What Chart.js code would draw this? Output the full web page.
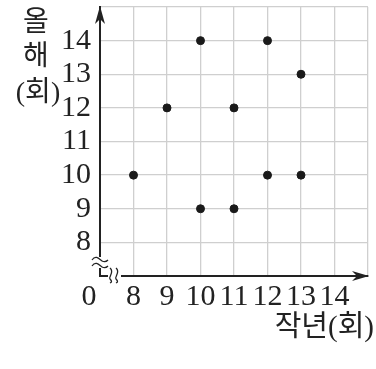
<!DOCTYPE html>
<html>
<head>
<meta charset="utf-8">
<script src="https://cdn.jsdelivr.net/npm/chart.js@4/dist/chart.umd.min.js"></script>
<style>
  body { margin: 0; background: #fff; }
</style>
</head>
<body>
<canvas id="myChart" width="376" height="369"></canvas>
<script>
// 작년 / 올해 기록 (점 하나가 학생 한 명)
var lastYear = [8, 9, 10, 10, 11, 11, 12, 12, 13, 13];
var thisYear = [10, 12, 14, 9, 12, 9, 14, 10, 13, 10];
var xTicks = [8, 9, 10, 11, 12, 13, 14];
var yTicks = [8, 9, 10, 11, 12, 13, 14];
var xTitle = '작년(회)';
var yTitle = ['올', '해', '(회)'];
var originLabel = '0';

var ink = '#222';
var serif = "'Liberation Serif', 'Noto Sans CJK KR', serif";

var points = lastYear.map(function (x, i) {
    return { x: x, y: thisYear[i] };
});

function noPad(s) {
    s.paddingTop = 0;
    s.paddingBottom = 0;
    s.paddingLeft = 0;
    s.paddingRight = 0;
}

// 축 끝 화살표, 물결선(생략 표시), 원점 0, 축 제목
var extras = {
    id: 'extras',
    afterDraw: function (chart) {
        var ctx = chart.ctx;
        var a = chart.chartArea;
        ctx.save();

        // 물결선 자리 지우기
        ctx.fillStyle = '#fff';
        ctx.fillRect(a.left - 3, a.bottom - 19, 6, 11);
        ctx.fillRect(a.left + 8, a.bottom - 3, 13, 6);

        ctx.strokeStyle = ink;
        ctx.lineWidth = 1.3;
        // 세로축 물결
        [a.bottom - 17, a.bottom - 11].forEach(function (y) {
            ctx.beginPath();
            ctx.moveTo(a.left - 8, y + 1);
            ctx.bezierCurveTo(a.left - 4, y - 5, a.left, y + 1, a.left + 2, y + 2);
            ctx.bezierCurveTo(a.left + 4, y + 3, a.left + 6, y + 3, a.left + 8, y + 1);
            ctx.stroke();
        });
        // 가로축 물결
        [a.left + 11, a.left + 17].forEach(function (x) {
            ctx.beginPath();
            ctx.moveTo(x - 1, a.bottom - 8);
            ctx.bezierCurveTo(x + 4, a.bottom - 4, x - 3, a.bottom + 1, x - 1, a.bottom + 3);
            ctx.bezierCurveTo(x + 1, a.bottom + 5, x + 1, a.bottom + 6, x - 1, a.bottom + 7);
            ctx.stroke();
        });

        // 화살표
        ctx.fillStyle = ink;
        ctx.beginPath();
        ctx.moveTo(a.left, a.top - 1);
        ctx.lineTo(a.left + 5, a.top + 17);
        ctx.lineTo(a.left, a.top + 12);
        ctx.lineTo(a.left - 5, a.top + 17);
        ctx.closePath();
        ctx.fill();

        ctx.beginPath();
        ctx.moveTo(a.right + 1, a.bottom);
        ctx.lineTo(a.right - 16, a.bottom + 5);
        ctx.lineTo(a.right - 11, a.bottom);
        ctx.lineTo(a.right - 16, a.bottom - 5);
        ctx.closePath();
        ctx.fill();

        // 원점 0
        ctx.font = "30px " + serif;
        ctx.textAlign = 'center';
        ctx.textBaseline = 'middle';
        ctx.fillText(originLabel, a.left - 11, a.bottom + 21);

        // 세로축 제목
        ctx.font = "28px " + serif;
        ctx.fillText(yTitle[0], 36, 24);
        ctx.fillText(yTitle[1], 36, 58);
        ctx.fillText(yTitle[2], 38, 94);

        // 가로축 제목
        ctx.font = "29px " + serif;
        ctx.textAlign = 'right';
        ctx.fillText(xTitle, 374, 328);
        ctx.restore();
    }
};

var ctx = document.getElementById('myChart').getContext('2d');
var chart = new Chart(ctx, {
    type: 'scatter',
    data: {
        datasets: [{
            data: points,
            backgroundColor: '#1a1a1a',
            borderColor: '#1a1a1a',
            pointRadius: 4,
            pointHoverRadius: 4
        }]
    },
    options: {
        responsive: false,
        animation: false,
        events: [],
        layout: { padding: { top: 7, right: 8, left: 0, bottom: 0 } },
        plugins: {
            legend: { display: false },
            tooltip: { enabled: false }
        },
        scales: {
            x: {
                type: 'linear',
                min: 7,
                max: 15,
                afterFit: function (s) { s.height = 93; noPad(s); },
                afterBuildTicks: function (s) {
                    s.ticks = [];
                    for (var v = 7; v <= 15; v++) s.ticks.push({ value: v });
                },
                ticks: {
                    autoSkip: false,
                    maxRotation: 0,
                    padding: 3,
                    color: ink,
                    font: { family: serif, size: 30 },
                    callback: function (v) {
                        return xTicks.indexOf(v) >= 0 ? String(v) : '';
                    }
                },
                grid: { color: '#cfcfcf', lineWidth: 1.3, drawTicks: false },
                border: { color: ink, width: 2 }
            },
            y: {
                type: 'linear',
                min: 7,
                max: 15,
                afterFit: function (s) { s.width = 100; noPad(s); },
                afterBuildTicks: function (s) {
                    s.ticks = [];
                    for (var v = 7; v <= 15; v++) s.ticks.push({ value: v });
                },
                ticks: {
                    autoSkip: false,
                    padding: 9,
                    color: ink,
                    font: { family: serif, size: 30 },
                    callback: function (v) {
                        return yTicks.indexOf(v) >= 0 ? String(v) : '';
                    }
                },
                grid: { color: '#cfcfcf', lineWidth: 1.3, drawTicks: false },
                border: { color: ink, width: 2 }
            }
        }
    },
    plugins: [extras]
});
</script>
</body>
</html>
